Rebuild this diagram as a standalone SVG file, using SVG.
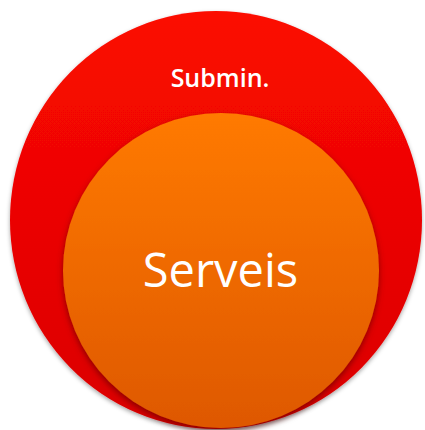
<svg xmlns="http://www.w3.org/2000/svg" width="425" height="430" viewBox="0 0 425 430">
  <defs>
    <linearGradient id="gOuter" x1="0" y1="0" x2="0" y2="1">
      <stop offset="0" stop-color="#fc0900"/>
      <stop offset="1" stop-color="#da0000"/>
    </linearGradient>
    <linearGradient id="gInner" x1="0" y1="0" x2="0" y2="1">
      <stop offset="0" stop-color="#ff7a00"/>
      <stop offset="1" stop-color="#de5800"/>
    </linearGradient>
    <filter id="shOuter" x="-10%" y="-10%" width="120%" height="120%">
      <feDropShadow dx="0" dy="2" stdDeviation="2" flood-color="#000" flood-opacity="0.35"/>
    </filter>
    <filter id="shInner" x="-10%" y="-10%" width="120%" height="120%">
      <feDropShadow dx="0" dy="3" stdDeviation="3" flood-color="#500000" flood-opacity="0.6"/>
    </filter>
  </defs>
  <style>
    .lbl { fill: #ffffff; font-family: "Open Sans", "DejaVu Sans", sans-serif; text-anchor: middle; }
  </style>
  <g id="submin">
    <ellipse cx="216" cy="220" rx="206" ry="209" fill="url(#gOuter)" filter="url(#shOuter)"/>
    <text class="lbl" x="220" y="87" font-size="25" font-weight="600">Submin.</text>
  </g>
  <g id="serveis">
    <ellipse cx="221" cy="270.5" rx="158" ry="157.5" fill="url(#gInner)" filter="url(#shInner)"/>
    <text class="lbl" x="220.5" y="287" font-size="47">Serveis</text>
  </g>
  <g id="connectors"/>
</svg>
